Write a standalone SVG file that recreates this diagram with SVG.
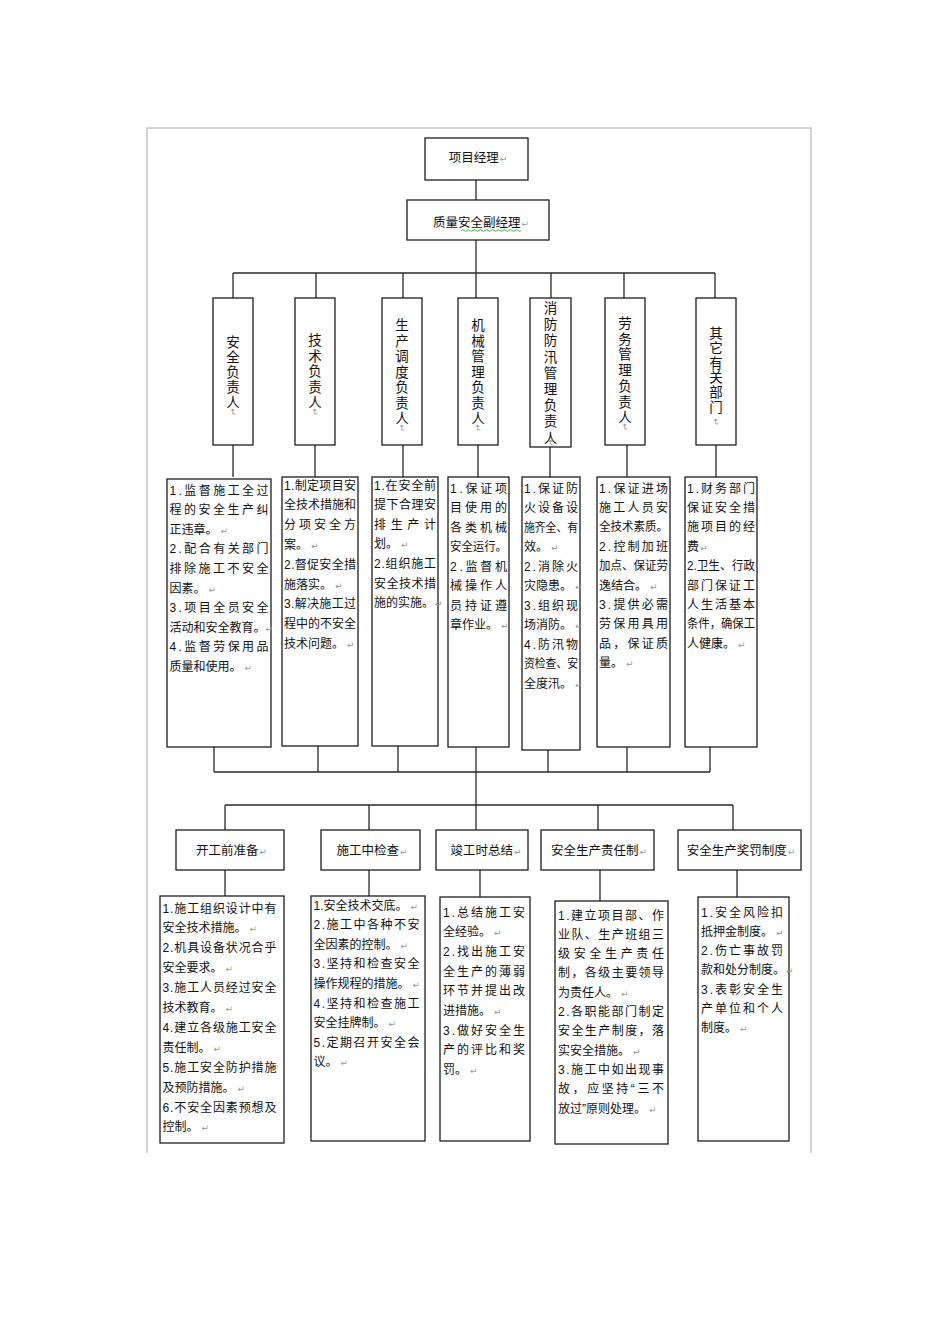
<svg xmlns="http://www.w3.org/2000/svg" width="950" height="1344" viewBox="0 0 950 1344">
<style>
.bg{fill:#fff}
.frame{fill:none;stroke:#c6c6c6;stroke-width:1.5}
.box{fill:#fff;stroke:#1e1e1e;stroke-width:1.3}
.conn path{fill:none;stroke:#2a2a2a;stroke-width:1.3}
.t{font-family:'Liberation Sans','Noto Sans CJK SC',sans-serif;font-size:12px;fill:#111}
.h{font-family:'Liberation Sans','Noto Sans CJK SC',sans-serif;font-size:12.5px;fill:#111;text-anchor:middle}
.v{font-family:'Liberation Sans','Noto Sans CJK SC',sans-serif;font-size:13.5px;fill:#111;text-anchor:middle}
.pm{font-family:'DejaVu Sans',sans-serif;font-size:9px;fill:#999}
.wavy{fill:none;stroke:#3a3;stroke-width:0.9}
</style>
<rect class="bg" x="0" y="0" width="950" height="1344"/>
<path class="frame" d="M147,1153V128H811V1153"/>

<g class="conn" id="connectors">
<path d="M476,180V200"/>
<path d="M476,240V273"/>
<path d="M233,273H715"/>
<path d="M233,273V298M316,273V298M403,273V298M476,273V298M551,273V298M624,273V298M715,273V298"/>
<path d="M233,445V477M315,445V477M403,445V477M478,445V477M550,447V477M627,445V477M716,445V477"/>
<path d="M214,747V772M318,746V772M398,746V772M548,750V772M627,747V772M710,747V772M214,772H710"/>
<path d="M476,747V830"/>
<path d="M225,805H733M225,805V830M369,805V830M598,805V830M733,805V830"/>
<path d="M225,870V896M369,870V896M480,870V897M600,870V901M737,870V897"/>
</g>

<g id="pm">
<rect class="box" x="425" y="138" width="103" height="42"/>
<text class="h" x="478" y="161.5">项目经理<tspan class="pm" dx="1">↵</tspan></text>
</g>
<g id="dpm">
<rect class="box" x="407" y="200" width="142" height="40"/>
<text class="h" x="481" y="226.5">质量安全副经理<tspan class="pm" dx="1">↵</tspan></text>
<path class="wavy" d="M461,230.5q1.5,-1.6 3,0t3,0t3,0t3,0t3,0t3,0t3,0t3,0t3,0t3,0t3,0t3,0t3,0t3,0t3,0t3,0t3,0t3,0t3,0t3,0"/>
</g>

<g id="v1">
<rect class="box" x="213" y="298" width="40" height="147"/>
<text class="v" x="233" y="347">安<tspan x="233" dy="15">全</tspan><tspan x="233" dy="15">负</tspan><tspan x="233" dy="15">责</tspan><tspan x="233" dy="15">人</tspan></text>
<text class="pm" x="233" y="415" text-anchor="middle" transform="rotate(90 233 412)">↵</text>
</g>
<g id="v2">
<rect class="box" x="295" y="298" width="40" height="147"/>
<text class="v" x="315" y="345">技<tspan x="315" dy="15.5">术</tspan><tspan x="315" dy="15.5">负</tspan><tspan x="315" dy="15.5">责</tspan><tspan x="315" dy="15.5">人</tspan></text>
<text class="pm" x="315" y="415" text-anchor="middle" transform="rotate(90 315 412)">↵</text>
</g>
<g id="v3">
<rect class="box" x="382" y="298" width="40" height="147"/>
<text class="v" x="402" y="330">生<tspan x="402" dy="15.5">产</tspan><tspan x="402" dy="15.5">调</tspan><tspan x="402" dy="15.5">度</tspan><tspan x="402" dy="15.5">负</tspan><tspan x="402" dy="15.5">责</tspan><tspan x="402" dy="15.5">人</tspan></text>
<text class="pm" x="402" y="431" text-anchor="middle" transform="rotate(90 402 428)">↵</text>
</g>
<g id="v4">
<rect class="box" x="458" y="298" width="40" height="147"/>
<text class="v" x="478" y="330">机<tspan x="478" dy="15.5">械</tspan><tspan x="478" dy="15.5">管</tspan><tspan x="478" dy="15.5">理</tspan><tspan x="478" dy="15.5">负</tspan><tspan x="478" dy="15.5">责</tspan><tspan x="478" dy="15.5">人</tspan></text>
<text class="pm" x="478" y="431" text-anchor="middle" transform="rotate(90 478 428)">↵</text>
</g>
<g id="v5">
<rect class="box" x="530" y="298" width="41" height="149"/>
<text class="v" x="550.5" y="313">消<tspan x="550.5" dy="16.2">防</tspan><tspan x="550.5" dy="16.2">防</tspan><tspan x="550.5" dy="16.2">汛</tspan><tspan x="550.5" dy="16.2">管</tspan><tspan x="550.5" dy="16.2">理</tspan><tspan x="550.5" dy="16.2">负</tspan><tspan x="550.5" dy="16.2">责</tspan><tspan x="550.5" dy="16.2">人</tspan></text>
<text class="pm" x="550.5" y="446" text-anchor="middle" transform="rotate(90 550.5 443)">↵</text>
</g>
<g id="v6">
<rect class="box" x="605" y="298" width="40" height="147"/>
<text class="v" x="625" y="328">劳<tspan x="625" dy="15.7">务</tspan><tspan x="625" dy="15.7">管</tspan><tspan x="625" dy="15.7">理</tspan><tspan x="625" dy="15.7">负</tspan><tspan x="625" dy="15.7">责</tspan><tspan x="625" dy="15.7">人</tspan></text>
<text class="pm" x="625" y="430" text-anchor="middle" transform="rotate(90 625 427)">↵</text>
</g>
<g id="v7">
<rect class="box" x="696" y="298" width="40" height="147"/>
<text class="v" x="716" y="338">其<tspan x="716" dy="14.8">它</tspan><tspan x="716" dy="14.8">有</tspan><tspan x="716" dy="14.8">关</tspan><tspan x="716" dy="14.8">部</tspan><tspan x="716" dy="14.8">门</tspan></text>
<text class="pm" x="716" y="425" text-anchor="middle" transform="rotate(90 716 422)">↵</text>
</g>

<g id="b1">
<rect class="box" x="167" y="479" width="104" height="268"/>
<text class="t" x="169.5" y="494.5" textLength="99">1.监督施工全过</text>
<text class="t" x="169.5" y="514.1" textLength="99">程的安全生产纠</text>
<text class="t" x="169.5" y="533.7">正违章。<tspan class="pm" dx="3">↵</tspan></text>
<text class="t" x="169.5" y="553.3" textLength="99">2.配合有关部门</text>
<text class="t" x="169.5" y="572.9" textLength="99">排除施工不安全</text>
<text class="t" x="169.5" y="592.5">因素。<tspan class="pm" dx="3">↵</tspan></text>
<text class="t" x="169.5" y="612.1" textLength="99">3.项目全员安全</text>
<text class="t" x="169.5" y="631.7">活动和安全教育。<tspan class="pm" dx="0">↵</tspan></text>
<text class="t" x="169.5" y="651.3" textLength="99">4.监督劳保用品</text>
<text class="t" x="169.5" y="670.9">质量和使用。<tspan class="pm" dx="3">↵</tspan></text>
</g>
<g id="b2">
<rect class="box" x="282" y="477" width="76" height="269"/>
<text class="t" x="284" y="489.5" textLength="72">1.制定项目安</text>
<text class="t" x="284" y="509.3" textLength="72">全技术措施和</text>
<text class="t" x="284" y="529.1" textLength="72">分项安全方</text>
<text class="t" x="284" y="548.9">案。<tspan class="pm" dx="3">↵</tspan></text>
<text class="t" x="284" y="568.7" textLength="72">2.督促安全措</text>
<text class="t" x="284" y="588.5">施落实。<tspan class="pm" dx="3">↵</tspan></text>
<text class="t" x="284" y="608.3" textLength="72">3.解决施工过</text>
<text class="t" x="284" y="628.1" textLength="72">程中的不安全</text>
<text class="t" x="284" y="647.9">技术问题。<tspan class="pm" dx="3">↵</tspan></text>
</g>
<g id="b3">
<rect class="box" x="372" y="477" width="66" height="269"/>
<text class="t" x="374" y="489.5" textLength="62">1.在安全前</text>
<text class="t" x="374" y="509.1" textLength="62">提下合理安</text>
<text class="t" x="374" y="528.7" textLength="62">排生产计</text>
<text class="t" x="374" y="548.3">划。<tspan class="pm" dx="3">↵</tspan></text>
<text class="t" x="374" y="567.9" textLength="62">2.组织施工</text>
<text class="t" x="374" y="587.5" textLength="62">安全技术措</text>
<text class="t" x="374" y="607.1">施的实施。<tspan class="pm" dx="1">↵</tspan></text>
</g>
<g id="b4">
<rect class="box" x="448" y="477" width="61" height="270"/>
<text class="t" x="450" y="492.5" textLength="57">1.保证项</text>
<text class="t" x="450" y="512" textLength="57">目使用的</text>
<text class="t" x="450" y="531.5" textLength="57">各类机械</text>
<text class="t" x="450" y="551" textLength="57" lengthAdjust="spacingAndGlyphs">安全运行。</text>
<text class="t" x="450" y="570.5" textLength="57">2.监督机</text>
<text class="t" x="450" y="590" textLength="57">械操作人</text>
<text class="t" x="450" y="609.5" textLength="57">员持证遵</text>
<text class="t" x="450" y="629">章作业。<tspan class="pm" dx="3">↵</tspan></text>
</g>
<g id="b5">
<rect class="box" x="522" y="477" width="58" height="273"/>
<text class="t" x="524" y="492.5" textLength="54">1.保证防</text>
<text class="t" x="524" y="512" textLength="54">火设备设</text>
<text class="t" x="524" y="531.5" textLength="54" lengthAdjust="spacingAndGlyphs">施齐全、有</text>
<text class="t" x="524" y="551">效。<tspan class="pm" dx="3">↵</tspan></text>
<text class="t" x="524" y="570.5" textLength="54">2.消除火</text>
<text class="t" x="524" y="590">灾隐患。<tspan class="pm" dx="3">↵</tspan></text>
<text class="t" x="524" y="609.5" textLength="54">3.组织现</text>
<text class="t" x="524" y="629">场消防。<tspan class="pm" dx="3">↵</tspan></text>
<text class="t" x="524" y="648.5" textLength="54">4.防汛物</text>
<text class="t" x="524" y="668" textLength="54" lengthAdjust="spacingAndGlyphs">资检查、安</text>
<text class="t" x="524" y="687.5">全度汛。<tspan class="pm" dx="3">↵</tspan></text>
</g>
<g id="b6">
<rect class="box" x="597" y="477" width="73" height="270"/>
<text class="t" x="599" y="492.5" textLength="69">1.保证进场</text>
<text class="t" x="599" y="511.9" textLength="69">施工人员安</text>
<text class="t" x="599" y="531.3" textLength="69" lengthAdjust="spacingAndGlyphs">全技术素质。</text>
<text class="t" x="599" y="550.7" textLength="69">2.控制加班</text>
<text class="t" x="599" y="570.1" textLength="69" lengthAdjust="spacingAndGlyphs">加点、保证劳</text>
<text class="t" x="599" y="589.5">逸结合。<tspan class="pm" dx="3">↵</tspan></text>
<text class="t" x="599" y="608.9" textLength="69">3.提供必需</text>
<text class="t" x="599" y="628.3" textLength="69">劳保用具用</text>
<text class="t" x="599" y="647.7" textLength="69">品，保证质</text>
<text class="t" x="599" y="667.1">量。<tspan class="pm" dx="3">↵</tspan></text>
</g>
<g id="b7">
<rect class="box" x="685" y="477" width="72" height="270"/>
<text class="t" x="687" y="492.5" textLength="68">1.财务部门</text>
<text class="t" x="687" y="511.9" textLength="68">保证安全措</text>
<text class="t" x="687" y="531.3" textLength="68">施项目的经</text>
<text class="t" x="687" y="550.7">费<tspan class="pm" dx="1">↵</tspan></text>
<text class="t" x="687" y="570.1" textLength="68" lengthAdjust="spacingAndGlyphs">2.卫生、行政</text>
<text class="t" x="687" y="589.5" textLength="68">部门保证工</text>
<text class="t" x="687" y="608.9" textLength="68">人生活基本</text>
<text class="t" x="687" y="628.3" textLength="68" lengthAdjust="spacingAndGlyphs">条件，确保工</text>
<text class="t" x="687" y="647.7">人健康。<tspan class="pm" dx="3">↵</tspan></text>
</g>

<g id="s1">
<rect class="box" x="176" y="830" width="108" height="40"/>
<text class="h" x="231.5" y="855">开工前准备<tspan class="pm" dx="1">↵</tspan></text>
</g>
<g id="s2">
<rect class="box" x="321" y="830" width="99" height="40"/>
<text class="h" x="372" y="855">施工中检查<tspan class="pm" dx="1">↵</tspan></text>
</g>
<g id="s3">
<rect class="box" x="436" y="830" width="92" height="40"/>
<text class="h" x="486" y="855">竣工时总结<tspan class="pm" dx="1">↵</tspan></text>
</g>
<g id="s4">
<rect class="box" x="541" y="830" width="113" height="40"/>
<text class="h" x="599" y="855">安全生产责任制<tspan class="pm" dx="1">↵</tspan></text>
</g>
<g id="s5">
<rect class="box" x="678" y="830" width="123" height="40"/>
<text class="h" x="741" y="855">安全生产奖罚制度<tspan class="pm" dx="1">↵</tspan></text>
</g>

<g id="c1">
<rect class="box" x="160" y="896" width="124" height="247"/>
<text class="t" x="162.5" y="912.5" textLength="114">1.施工组织设计中有</text>
<text class="t" x="162.5" y="932.4">安全技术措施。<tspan class="pm" dx="3">↵</tspan></text>
<text class="t" x="162.5" y="952.3" textLength="114">2.机具设备状况合乎</text>
<text class="t" x="162.5" y="972.2">安全要求。<tspan class="pm" dx="3">↵</tspan></text>
<text class="t" x="162.5" y="992.1" textLength="114">3.施工人员经过安全</text>
<text class="t" x="162.5" y="1012">技术教育。<tspan class="pm" dx="3">↵</tspan></text>
<text class="t" x="162.5" y="1031.9" textLength="114">4.建立各级施工安全</text>
<text class="t" x="162.5" y="1051.8">责任制。<tspan class="pm" dx="3">↵</tspan></text>
<text class="t" x="162.5" y="1071.7" textLength="114">5.施工安全防护措施</text>
<text class="t" x="162.5" y="1091.6">及预防措施。<tspan class="pm" dx="3">↵</tspan></text>
<text class="t" x="162.5" y="1111.5" textLength="114">6.不安全因素预想及</text>
<text class="t" x="162.5" y="1131.4">控制。<tspan class="pm" dx="3">↵</tspan></text>
</g>
<g id="c2">
<rect class="box" x="311" y="896" width="114" height="245"/>
<text class="t" x="313.5" y="909.5">1.安全技术交底。<tspan class="pm" dx="3">↵</tspan></text>
<text class="t" x="313.5" y="929.1" textLength="106">2.施工中各种不安</text>
<text class="t" x="313.5" y="948.7">全因素的控制。<tspan class="pm" dx="3">↵</tspan></text>
<text class="t" x="313.5" y="968.3" textLength="106">3.坚持和检查安全</text>
<text class="t" x="313.5" y="987.9">操作规程的措施。<tspan class="pm" dx="3">↵</tspan></text>
<text class="t" x="313.5" y="1007.5" textLength="106">4.坚持和检查施工</text>
<text class="t" x="313.5" y="1027.1">安全挂牌制。<tspan class="pm" dx="3">↵</tspan></text>
<text class="t" x="313.5" y="1046.7" textLength="106">5.定期召开安全会</text>
<text class="t" x="313.5" y="1066.3">议。<tspan class="pm" dx="3">↵</tspan></text>
</g>
<g id="c3">
<rect class="box" x="440" y="897" width="90" height="244"/>
<text class="t" x="443" y="916.5" textLength="82">1.总结施工安</text>
<text class="t" x="443" y="936.2">全经验。<tspan class="pm" dx="3">↵</tspan></text>
<text class="t" x="443" y="955.9" textLength="82">2.找出施工安</text>
<text class="t" x="443" y="975.6" textLength="82">全生产的薄弱</text>
<text class="t" x="443" y="995.3" textLength="82">环节并提出改</text>
<text class="t" x="443" y="1015">进措施。<tspan class="pm" dx="3">↵</tspan></text>
<text class="t" x="443" y="1034.7" textLength="82">3.做好安全生</text>
<text class="t" x="443" y="1054.4" textLength="82">产的评比和奖</text>
<text class="t" x="443" y="1074.1">罚。<tspan class="pm" dx="3">↵</tspan></text>
</g>
<g id="c4">
<rect class="box" x="555" y="901" width="113" height="243"/>
<text class="t" x="558" y="919.5" textLength="106">1.建立项目部、作</text>
<text class="t" x="558" y="938.8" textLength="106">业队、生产班组三</text>
<text class="t" x="558" y="958.1" textLength="106">级安全生产责任</text>
<text class="t" x="558" y="977.4" textLength="106">制，各级主要领导</text>
<text class="t" x="558" y="996.7">为责任人。<tspan class="pm" dx="3">↵</tspan></text>
<text class="t" x="558" y="1016" textLength="106">2.各职能部门制定</text>
<text class="t" x="558" y="1035.3" textLength="106">安全生产制度，落</text>
<text class="t" x="558" y="1054.6">实安全措施。<tspan class="pm" dx="3">↵</tspan></text>
<text class="t" x="558" y="1073.9" textLength="106">3.施工中如出现事</text>
<text class="t" x="558" y="1093.2" textLength="106">故，应坚持“三不</text>
<text class="t" x="558" y="1112.5">放过”原则处理。<tspan class="pm" dx="3">↵</tspan></text>
</g>
<g id="c5">
<rect class="box" x="698" y="897" width="91" height="244"/>
<text class="t" x="701" y="916.5" textLength="82">1.安全风险扣</text>
<text class="t" x="701" y="935.8">抵押金制度。<tspan class="pm" dx="3">↵</tspan></text>
<text class="t" x="701" y="955.1" textLength="82">2.伤亡事故罚</text>
<text class="t" x="701" y="974.4">款和处分制度。<tspan class="pm" dx="1">↵</tspan></text>
<text class="t" x="701" y="993.7" textLength="82">3.表彰安全生</text>
<text class="t" x="701" y="1013" textLength="82">产单位和个人</text>
<text class="t" x="701" y="1032.3">制度。<tspan class="pm" dx="3">↵</tspan></text>
</g>
</svg>
